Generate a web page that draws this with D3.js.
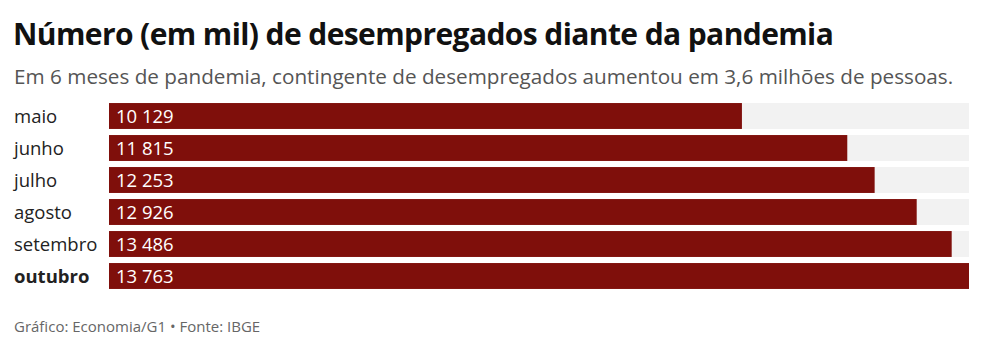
<!DOCTYPE html>
<html>
<head>
<meta charset="utf-8">
<script src="https://cdn.jsdelivr.net/npm/d3@7"></script>
<style>
  body { margin: 0; background: #fff; }
  svg { font-family: "Open Sans", sans-serif; }
</style>
</head>
<body>
<div id="chart"></div>
<script>
// months and values (in thousands)
let months = ["maio", "junho", "julho", "agosto", "setembro", "outubro"];
let values = [10129, 11815, 12253, 12926, 13486, 13763];
let valueLabels = ["10 129", "11 815", "12 253", "12 926", "13 486", "13 763"];

let width = 984;
let height = 352;
let margin = {top: 100, right: 15, left: 109};

let svg = d3.select("#chart")
    .append("svg")
    .attr("width", width)
    .attr("height", height);

// title + subtitle
svg.append("text")
    .attr("x", 13)
    .attr("y", 45)
    .text("Número (em mil) de desempregados diante da pandemia")
    .style("font-weight", "bold")
    .style("font-size", "30px")
    .style("letter-spacing", "-0.6px")
    .style("fill", "#111");

svg.append("text")
    .attr("x", 14)
    .attr("y", 84)
    .text("Em 6 meses de pandemia, contingente de desempregados aumentou em 3,6 milhões de pessoas.")
    .style("font-size", "20.7px")
    .style("fill", "#555");

let xScale = d3.scaleLinear()
    .domain([0, d3.max(values)])
    .range([margin.left, width - margin.right]);

let yScale = d3.scaleBand()
    .domain(months)
    .range([margin.top, margin.top + 32 * months.length])
    .paddingInner(0.19)
    .paddingOuter(0.095);

let rows = svg.append("g").selectAll(".row")
    .data(months)
    .enter()
    .append("g")
    .attr("class", "row");

// light grey background track
rows.append("rect")
    .attr("x", xScale(0))
    .attr("y", d => yScale(d))
    .attr("width", xScale(d3.max(values)) - xScale(0))
    .attr("height", yScale.bandwidth())
    .style("fill", "#f2f2f2");

rows.append("rect")
    .attr("x", xScale(0))
    .attr("y", d => yScale(d))
    .attr("width", (d, i) => xScale(values[i]) - xScale(0))
    .attr("height", yScale.bandwidth())
    .style("fill", "#7f0f0b");

rows.append("text")
    .attr("x", xScale(0) + 7)
    .attr("y", d => yScale(d) + yScale.bandwidth() / 2)
    .attr("dy", "0.36em")
    .text((d, i) => valueLabels[i])
    .style("font-size", "18.5px")
    .style("fill", "#fff");

rows.append("text")
    .attr("x", 14)
    .attr("y", d => yScale(d) + yScale.bandwidth() / 2)
    .attr("dy", "0.36em")
    .text(d => d)
    .style("font-size", "18.5px")
    .style("font-weight", (d, i) => i === months.length - 1 ? "bold" : "normal")
    .style("fill", "#222");

// source
svg.append("text")
    .attr("x", 14)
    .attr("y", 332)
    .text("Gráfico: Economia/G1 • Fonte: IBGE")
    .style("font-size", "15px")
    .style("fill", "#666");
</script>
</body>
</html>
